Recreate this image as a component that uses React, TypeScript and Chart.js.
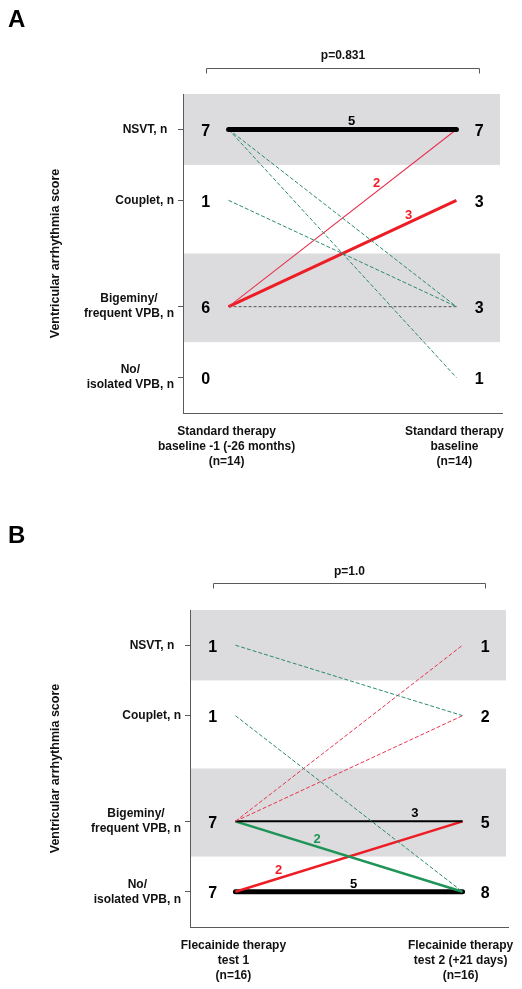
import React, { useEffect, useRef } from "react";
import { Chart, registerables } from "chart.js";

Chart.register(...registerables);

const FONT = '"Liberation Sans", Arial, Helvetica, sans-serif';
const AXIS = "#5a5a5a";
const BAND = "#dcdcde";

// Score axis rows (position on the score axis)
const categoryLabels: string[][] = [
  ["NSVT, n  "],
  ["Couplet, n"],
  ["Bigeminy/", "frequent VPB, n"],
  ["No/", "isolated VPB, n"],
];
const categoryScore = [3.5, 2.5, 1, 0];
const shadedBands = [
  [3, 4],
  [0.5, 1.75],
];
const yAxisTitle = "Ventricular arrhythmia score";

// Panel A
const aTimepoints = [
  ["Standard therapy", "baseline -1 (-26 months)", "(n=14)"],
  ["Standard therapy", "baseline", "(n=14)"],
];
const aCountsBefore = [7, 1, 6, 0];
const aCountsAfter = [7, 3, 3, 1];
const aFlowFrom = [0, 0, 0, 1, 2, 2, 2];
const aFlowTo = [0, 2, 3, 2, 0, 1, 2];
const aFlowN = [5, 1, 1, 1, 2, 3, 1];
const aPValue = "p=0.831";

// Panel B
const bTimepoints = [
  ["Flecainide therapy", "test 1", "(n=16)"],
  ["Flecainide therapy", "test 2 (+21 days)", "(n=16)"],
];
const bCountsBefore = [1, 1, 7, 7];
const bCountsAfter = [1, 2, 5, 8];
const bFlowFrom = [0, 1, 2, 2, 2, 2, 3, 3];
const bFlowTo = [1, 3, 0, 1, 2, 3, 2, 3];
const bFlowN = [1, 1, 1, 1, 3, 2, 2, 5];
const bPValue = "p=1.0";

type FlowStyle = {
  color: string;
  width: number;
  dash?: number[];
  labelAt?: number;
  labelColor?: string;
};

const BLACK = "#000000";
const RED = "#ee1d25";
const PINK = "#e8334f";
const GREEN_D = "#2b8a6a";
const GREEN = "#1f9457";
const GRAY_D = "#555555";

const aStyles: FlowStyle[] = [
  { color: BLACK, width: 5, labelAt: 0.54, labelColor: BLACK },
  { color: GREEN_D, width: 1, dash: [4, 2] },
  { color: GREEN_D, width: 1, dash: [4, 2] },
  { color: GREEN_D, width: 1, dash: [4, 2] },
  { color: PINK, width: 1.1, labelAt: 0.65, labelColor: RED },
  { color: RED, width: 3, labelAt: 0.79, labelColor: RED },
  { color: GRAY_D, width: 1, dash: [3, 2] },
];

const bStyles: FlowStyle[] = [
  { color: GREEN_D, width: 1, dash: [4, 2] },
  { color: GREEN_D, width: 1, dash: [4, 2] },
  { color: PINK, width: 1, dash: [4, 2] },
  { color: PINK, width: 1, dash: [4, 2] },
  { color: BLACK, width: 2, labelAt: 0.79, labelColor: BLACK },
  { color: GREEN, width: 2.5, labelAt: 0.36, labelColor: GREEN },
  { color: RED, width: 2.5, labelAt: 0.19, labelColor: RED },
  { color: BLACK, width: 5, labelAt: 0.52, labelColor: BLACK },
];

type PanelProps = {
  letter: string;
  height: number;
  areaTop: number;
  areaLeft: number;
  areaRight: number;
  areaBottom: number;
  letterY: number;
  bracketY: number;
  pY: number;
  pValue: string;
  timepoints: string[][];
  before: number[];
  after: number[];
  from: number[];
  to: number[];
  n: number[];
  styles: FlowStyle[];
};

function Panel(p: PanelProps) {
  const ref = useRef<HTMLCanvasElement | null>(null);

  useEffect(() => {
    if (!ref.current) return;
    const decor = {
      id: "decor",
      beforeDraw(chart: any) {
        const { ctx, chartArea } = chart;
        const y = chart.scales.y;
        ctx.save();
        ctx.fillStyle = BAND;
        for (const [lo, hi] of shadedBands) {
          const yt = y.getPixelForValue(hi);
          const yb = y.getPixelForValue(lo);
          ctx.fillRect(chartArea.left, yt, chartArea.right - chartArea.left - 2, yb - yt);
        }
        ctx.restore();
      },
      afterDraw(chart: any) {
        const { ctx, chartArea } = chart;
        const x = chart.scales.x;
        const y = chart.scales.y;
        ctx.save();
        ctx.fillStyle = "#000";
        // panel letter
        ctx.font = `bold 24px ${FONT}`;
        ctx.textAlign = "left";
        ctx.textBaseline = "alphabetic";
        ctx.fillText(p.letter, 8, p.letterY);

        // bracket + p value
        const bx0 = Math.round(x.getPixelForValue(-0.1)) + 0.5;
        const bx1 = Math.round(x.getPixelForValue(1.1)) + 0.5;
        const by = p.bracketY + 0.5;
        ctx.strokeStyle = AXIS;
        ctx.lineWidth = 1;
        ctx.beginPath();
        ctx.moveTo(bx0, by + 5);
        ctx.lineTo(bx0, by);
        ctx.lineTo(bx1, by);
        ctx.lineTo(bx1, by + 5);
        ctx.stroke();
        ctx.font = `bold 12px ${FONT}`;
        ctx.textAlign = "center";
        ctx.fillStyle = "#111";
        ctx.fillText(p.pValue, (bx0 + bx1) / 2, p.pY);

        // category labels
        ctx.font = `bold 12px ${FONT}`;
        const rightEdge = chartArea.left - 9;
        categoryLabels.forEach((lines, i) => {
          const cy = y.getPixelForValue(categoryScore[i]);
          let w = 0;
          lines.forEach((l) => (w = Math.max(w, ctx.measureText(l).width)));
          const cx = rightEdge - w / 2;
          ctx.textAlign = "center";
          ctx.textBaseline = "middle";
          lines.forEach((l, k) => {
            const ly = cy + (k - (lines.length - 1) / 2) * 15;
            ctx.fillText(l, cx, ly);
          });
        });

        // counts
        ctx.font = `bold 16px ${FONT}`;
        ctx.textAlign = "center";
        ctx.textBaseline = "alphabetic";
        ctx.fillStyle = "#000";
        const lx = x.getPixelForValue(-0.1);
        const rx = x.getPixelForValue(1.1);
        categoryScore.forEach((s, i) => {
          const cy = y.getPixelForValue(s);
          ctx.fillText(String(p.before[i]), lx, cy + 6.5);
          ctx.fillText(String(p.after[i]), rx, cy + 6.5);
        });

        // timepoint labels
        ctx.font = `bold 12px ${FONT}`;
        ctx.fillStyle = "#111";
        p.timepoints.forEach((lines, t) => {
          const tx = x.getPixelForValue(t) - 2;
          lines.forEach((l, k) => {
            ctx.fillText(l, tx, chartArea.bottom + 21.5 + k * 15);
          });
        });

        // flow labels
        ctx.font = `bold 13px ${FONT}`;
        p.styles.forEach((st, i) => {
          if (st.labelAt === undefined) return;
          const x0 = x.getPixelForValue(0);
          const x1 = x.getPixelForValue(1);
          const y0 = y.getPixelForValue(categoryScore[p.from[i]]);
          const y1 = y.getPixelForValue(categoryScore[p.to[i]]);
          const t = st.labelAt;
          ctx.fillStyle = st.labelColor || "#000";
          ctx.fillText(String(p.n[i]), x0 + t * (x1 - x0), y0 + t * (y1 - y0) - 4);
        });

        // y axis title
        ctx.save();
        ctx.translate(56, (chartArea.top + chartArea.bottom) / 2);
        ctx.rotate(-Math.PI / 2);
        ctx.font = `bold 12.5px ${FONT}`;
        ctx.fillStyle = "#111";
        ctx.textAlign = "center";
        ctx.textBaseline = "middle";
        ctx.fillText(yAxisTitle, 0, 0);
        ctx.restore();

        ctx.restore();
      },
    };

    const datasets = p.from.map((f, i) => {
      const st = p.styles[i];
      return {
        data: [
          { x: 0, y: categoryScore[f] },
          { x: 1, y: categoryScore[p.to[i]] },
        ],
        borderColor: st.color,
        borderWidth: st.width,
        borderDash: st.dash || [],
        borderCapStyle: st.width >= 4 ? "round" : "butt",
        pointRadius: 0,
        fill: false,
        tension: 0,
      };
    });

    const chart = new Chart(ref.current, {
      type: "line",
      data: { datasets } as any,
      options: {
        responsive: false,
        animation: false,
        events: [],
        layout: {
          padding: { top: p.areaTop, left: 0, right: 522 - p.areaRight, bottom: 0 },
        },
        plugins: {
          legend: { display: false },
          tooltip: { enabled: false },
          title: { display: false },
        },
        scales: {
          x: {
            type: "linear",
            min: -0.2,
            max: 1.2,
            ticks: { display: false },
            grid: { display: false },
            border: { display: true, color: AXIS, width: 1 },
            afterFit: (s: any) => {
              s.height = p.height - p.areaBottom;
            },
          },
          y: {
            type: "linear",
            min: -0.5,
            max: 4,
            afterBuildTicks: (s: any) => {
              s.ticks = categoryScore.map((v) => ({ value: v }));
            },
            ticks: { display: false },
            grid: {
              display: true,
              drawOnChartArea: false,
              drawTicks: true,
              tickLength: 5,
              color: AXIS,
            },
            border: { display: true, color: AXIS, width: 1 },
            afterFit: (s: any) => {
              s.width = p.areaLeft;
            },
          },
        },
      } as any,
      plugins: [decor],
    });
    return () => chart.destroy();
  }, []);

  return (
    <canvas
      ref={ref}
      width={522}
      height={p.height}
      style={{ display: "block", width: 522, height: p.height }}
    />
  );
}

export default function App() {
  return (
    <div
      style={{
        position: "absolute",
        left: 0,
        top: 0,
        width: 522,
        height: 989,
        background: "#fff",
      }}
    >
      <Panel
        letter="A"
        height={480}
        areaTop={94}
        areaLeft={183}
        areaRight={502}
        areaBottom={413}
        letterY={27}
        bracketY={68}
        pY={59}
        pValue={aPValue}
        timepoints={aTimepoints}
        before={aCountsBefore}
        after={aCountsAfter}
        from={aFlowFrom}
        to={aFlowTo}
        n={aFlowN}
        styles={aStyles}
      />
      <Panel
        letter="B"
        height={509}
        areaTop={130}
        areaLeft={190}
        areaRight={508}
        areaBottom={447}
        letterY={63}
        bracketY={103}
        pY={95}
        pValue={bPValue}
        timepoints={bTimepoints}
        before={bCountsBefore}
        after={bCountsAfter}
        from={bFlowFrom}
        to={bFlowTo}
        n={bFlowN}
        styles={bStyles}
      />
    </div>
  );
}
